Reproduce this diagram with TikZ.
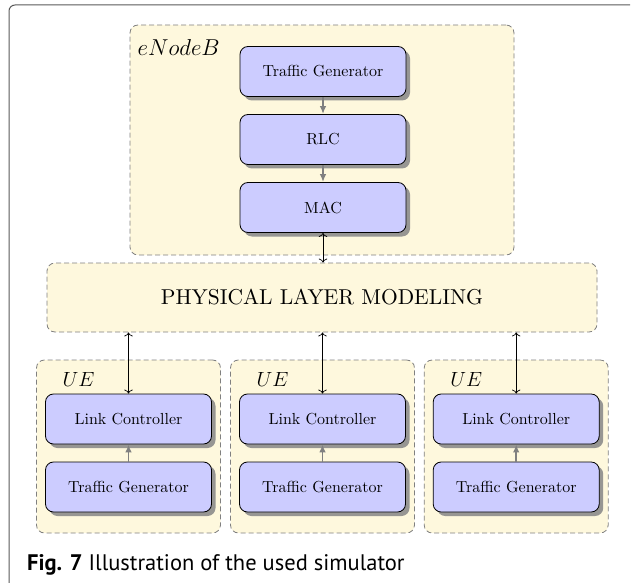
\RequirePackage{fix-cm}
\documentclass[tikz,border=0pt]{standalone}
\usepackage{fontspec}
\newfontfamily\capfont{PT Sans}
\newfontfamily\lmten{lmroman10-regular.otf}[ItalicFont=lmroman10-italic.otf]
\usetikzlibrary{arrows.meta,shadows}
\definecolor{contfill}{RGB}{254,248,221}
\definecolor{boxfill}{RGB}{204,204,255}
\begin{document}
\begin{tikzpicture}[x=1pt,y=-1pt,
 container/.style={draw=gray, dash pattern=on 5pt off 3pt, fill=contfill, rounded corners=8pt, line width=0.8pt, inner sep=0pt},
 block/.style={draw=black, fill=boxfill, rounded corners=8pt, minimum width=166pt, minimum height=50pt, line width=0.8pt, font=\lmten\fontsize{16}{19}\selectfont, drop shadow={shadow xshift=4pt,shadow yshift=-4pt,fill=black!45,opacity=0.9}},
 biglabel/.style={font=\lmten\fontsize{21.5}{25}\selectfont},
 flow/.style={draw=gray, line width=1.8pt, -{Latex[length=8pt,width=6.5pt]}},
 link/.style={draw=black, line width=0.7pt, {To[length=4pt]}-{To[length=4pt]}}
]
\useasboundingbox (0,0) rectangle (632,583);
\draw[draw=black!65, line width=1pt, rounded corners=6pt] (9,583) -- (9,5) -- (630,5);
% eNodeB
\node[container, minimum width=384pt, minimum height=230pt] (enb) at (322,140) {};
\node[font=\fontsize{23}{27}\selectfont, anchor=west, inner sep=0pt] (enblab) at (137.5,48) {$eNodeB$};
\node[block] (tg) at (323,71.5) {Traffic Generator};
\node[block] (rlc) at (323,139.5) {RLC};
\node[block] (mac) at (323,207.5) {MAC};
\draw[flow] (tg) -- (rlc);
\draw[flow] (rlc) -- (mac);
% physical layer
\node[container, biglabel, minimum width=550pt, minimum height=69pt] (phy) at (322,297.5) {PHYSICAL LAYER MODELING};
\draw[link] (mac.south) -- (mac.south |- phy.north);
% UEs
\foreach \i/\cx in {1/128.5, 2/322.5, 3/516.2} {
  \node[container, minimum width=184pt, minimum height=173pt] (ue\i) at (\cx,446.5) {};
  \node[font=\fontsize{20.5}{24}\selectfont, anchor=west, inner sep=0pt] (uelab\i) at (\cx-66,379) {$UE$};
  \node[block] (lc\i) at (\cx,419) {Link Controller};
  \node[block] (tgu\i) at (\cx,487) {Traffic Generator};
  \draw[flow] (tgu\i) -- (lc\i);
  \draw[link] (lc\i.north) -- (lc\i.north |- phy.south);
}
\node[anchor=base west, inner sep=0pt, font=\capfont\fontsize{22.5}{26}\selectfont] (cap) at (27,570) {\textbf{Fig. 7} Illustration of the used simulator};
\end{tikzpicture}
\end{document}
